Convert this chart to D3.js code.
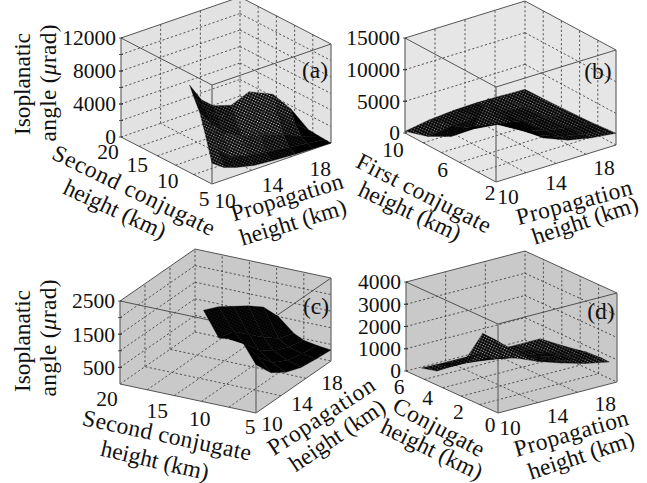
<!DOCTYPE html>
<html>
<head>
<meta charset="utf-8">
<script src="https://cdn.jsdelivr.net/npm/d3@7"></script>
<style>
  body { margin: 0; background: #fff; }
  text { font-family: "Liberation Serif", serif; fill: #111; }
</style>
</head>
<body>
<div id="chart"></div>
<script>
// Values
const propTicks = [10, 14, 18];

const propA = [10, 11, 12, 13.5, 15, 17, 18.5, 20];
const conjA = [5, 6, 7, 8, 8.7];
const heightA = [
  [2520, 1500, 1000, 500, 300, 120, 60, 0],
  [5300, 3300, 2000, 1300, 1000, 600, 300, 50],
  [7850, 6000, 4500, 3300, 2800, 1800, 800, 100],
  [9400, 7400, 6200, 5300, 5300, 4000, 2000, 150],
  [10600, 8300, 7100, 6400, 7300, 6000, 3500, 200]
];

const propB = [10, 12, 14, 16, 18, 20];
const conjB = [2, 2.7, 4, 6, 8, 10];
const heightB = [
  [10260, 8000, 4600, 3100, 2300, 1840],
  [12500, 7600, 4400, 3000, 2200, 1750],
  [6800, 6000, 3900, 2700, 2000, 1500],
  [3300, 3400, 3000, 2300, 1700, 1300],
  [1400, 1900, 2100, 1800, 1400, 1150],
  [260, 900, 1200, 1300, 1200, 1050]
];

const propC = [10, 12, 14, 16, 18, 20];
const conjC = [5, 6.5, 8, 9.1, 10.8];
const heightC = [
  [1450, 900, 600, 430, 370, 330],
  [2050, 1300, 800, 560, 450, 380],
  [2060, 1600, 1100, 750, 560, 450],
  [2020, 1900, 1500, 1100, 750, 600],
  [2760, 2550, 2250, 1950, 1600, 1000]
];

const propD = [10, 11, 12, 14, 16, 18, 20];
const conjD = [0.5, 1, 2, 3, 4, 5];
const heightD = [
  [2240, 2200, 2050, 1600, 1250, 950, 740],
  [3260, 2850, 2400, 1600, 1200, 950, 760],
  [1900, 1900, 1600, 1300, 1050, 850, 720],
  [1150, 1150, 1100, 950, 800, 650, 580],
  [630, 700, 700, 650, 600, 500, 470],
  [450, 430, 420, 420, 400, 370, 375]
];

// Panel layout: box corners are in page pixels
const panels = [
  {
    id: "a", O: [212, 184], L: [121, 137], R: [331, 143], H: 99, wall: "#e2e2e2", dots: 0.8,
    prop: propA, conj: conjA, heights: heightA,
    conjDomain: [5, 20], conjTicks: [5, 10, 15, 20], conjGrid: [8, 11, 14, 17],
    conjOffs: [[-8, 15], [-14, 12], [-14, 12], [-13, 15]],
    propGrid: [13.33, 16.67], zMax: 12000, zGrid: [2000, 4000, 6000, 8000, 10000],
    zLabels: [0, 4000, 8000, 12000],
    propOff: [13, 17],
    tag: [315, 70],
    yTitle: [[22, 84], [48, 83]],
    xTitle: [["Second conjugate", 134, 190, 26, 178], ["height (km)", 115, 209, 25, null]],
    pTitle: [["Propagation", 287, 197, -17, 116], ["height (km)", 293, 222, -17, null]]
  },
  {
    id: "b", O: [496, 182], L: [405, 133], R: [616, 145], H: 95, wall: "#e6e6e6", dots: 0.55,
    prop: propB, conj: conjB, heights: heightB,
    conjDomain: [2, 10], conjTicks: [2, 6, 10], conjGrid: [3.6, 5.2, 6.8, 8.4],
    conjOffs: [[-6, 11], [-8, 12], [-12, 17]],
    propGrid: [12.5, 15, 17.5], zMax: 15000, zGrid: [5000, 10000],
    zLabels: [0, 5000, 10000, 15000],
    propOff: [12, 15],
    tag: [598, 71],
    yTitle: null,
    xTitle: [["First conjugate", 424, 193, 27, 148], ["height (km)", 410, 211, 25, null]],
    pTitle: [["Propagation", 574, 202, -15, 119], ["height (km)", 585, 220, -18, null]]
  },
  {
    id: "c", O: [256, 413], L: [120, 384], R: [331, 361], H: 83, wall: "#c9c9c9", dots: 0.1,
    prop: propC, conj: conjC, heights: heightC,
    conjDomain: [5, 20], conjTicks: [5, 10, 15, 20], conjGrid: [8, 11, 14, 17],
    conjOffs: [[-6, 14], [-11, 15], [-8, 17], [-13, 15]],
    propGrid: [13.33, 16.67], zMax: 2500, zGrid: [500, 1000, 1500, 2000],
    zLabels: [500, 1500, 2500],
    propOff: [16, 11],
    tag: [316, 306],
    yTitle: [[22, 341], [48, 338]],
    xTitle: [["Second conjugate", 167, 435, 12, 172], ["height (km)", 155, 460, 13, null]],
    pTitle: [["Propagation", 321, 416, -33, 123], ["height (km)", 337, 435, -34, null]]
  },
  {
    id: "d", O: [498, 413], L: [406, 371], R: [617, 382], H: 89, wall: "#c9c9c9", dots: 0.7,
    prop: propD, conj: conjD, heights: heightD,
    conjDomain: [0, 6], conjTicks: [0, 2, 4, 6], conjGrid: [1.2, 2.4, 3.6, 4.8],
    conjOffs: [[-8, 12], [-9, 13], [-9, 13], [-7, 16]],
    propGrid: [13.33, 16.67], zMax: 4000, zGrid: [1000, 2000, 3000],
    zLabels: [0, 1000, 2000, 3000, 4000],
    propOff: [12, 15],
    tag: [601, 311],
    yTitle: null,
    xTitle: [["Conjugate", 439, 427, 28, 100], ["height (km)", 432, 449, 26, null]],
    pTitle: [["Propagation", 571, 433, -16, 118], ["height (km)", 581, 455, -18, null]]
  }
];

const width = 647;
const height = 483;
const tickSize = 21.5;
const titleSize = 23.5;

const svg = d3.select("#chart").append("svg")
    .attr("width", width)
    .attr("height", height)
    .attr("viewBox", [0, 0, width, height]);

const defs = svg.append("defs");

panels.forEach(p => {
  // fractions along each box edge
  const tp = d3.scaleLinear().domain([10, 20]).range([0, 1]);
  const tc = d3.scaleLinear().domain(p.conjDomain).range([0, 1]);
  const tz = d3.scaleLinear().domain([0, p.zMax]).range([0, p.H]);
  const project = (pv, cv, zv) => [
    p.O[0] + tp(pv) * (p.R[0] - p.O[0]) + tc(cv) * (p.L[0] - p.O[0]),
    p.O[1] + tp(pv) * (p.R[1] - p.O[1]) + tc(cv) * (p.L[1] - p.O[1]) - tz(zv)
  ];

  const [c0, c1] = p.conjDomain;
  const g = svg.append("g");

  const hull = [project(10, c1, p.zMax), project(20, c1, p.zMax), project(20, c0, p.zMax),
    project(20, c0, 0), project(10, c0, 0), project(10, c1, 0)];
  g.append("polygon").attr("points", hull.join(" ")).attr("fill", p.wall);

  // Dashed grid on the two back walls and the floor
  const gridLines = [];
  p.conjGrid.forEach(c => {
    gridLines.push([project(10, c, 0), project(20, c, 0)]);
    gridLines.push([project(20, c, 0), project(20, c, p.zMax)]);
  });
  p.propGrid.forEach(v => {
    gridLines.push([project(v, c0, 0), project(v, c1, 0)]);
    gridLines.push([project(v, c1, 0), project(v, c1, p.zMax)]);
  });
  p.zGrid.forEach(z => {
    gridLines.push([project(10, c1, z), project(20, c1, z)]);
    gridLines.push([project(20, c1, z), project(20, c0, z)]);
  });
  gridLines.push([project(10, c1, 0), project(20, c1, 0)]);
  gridLines.push([project(20, c1, 0), project(20, c0, 0)]);
  gridLines.push([project(20, c1, 0), project(20, c1, p.zMax)]);

  g.selectAll("line.grid").data(gridLines).join("line")
      .attr("class", "grid")
      .attr("x1", d => d[0][0]).attr("y1", d => d[0][1])
      .attr("x2", d => d[1][0]).attr("y2", d => d[1][1])
      .attr("stroke", "#333").attr("stroke-width", 0.8).attr("stroke-dasharray", "2.2,2.2");

  // Solid box edges
  const edges = [
    [project(10, c1, p.zMax), project(20, c1, p.zMax)],
    [project(20, c1, p.zMax), project(20, c0, p.zMax)],
    [project(10, c1, p.zMax), project(10, c0, p.zMax)],
    [project(10, c0, p.zMax), project(20, c0, p.zMax)],
    [project(10, c1, 0), project(10, c0, 0)],
    [project(10, c0, 0), project(20, c0, 0)]
  ];
  g.selectAll("line.edge").data(edges).join("line")
      .attr("class", "edge")
      .attr("x1", d => d[0][0]).attr("y1", d => d[0][1])
      .attr("x2", d => d[1][0]).attr("y2", d => d[1][1])
      .attr("stroke", "#444").attr("stroke-width", 0.9);

  const verticals = [
    [project(10, c1, 0), project(10, c1, p.zMax)],
    [project(10, c0, 0), project(10, c0, p.zMax)],
    [project(20, c0, 0), project(20, c0, p.zMax)]
  ];
  g.selectAll("line.vert").data(verticals).join("line")
      .attr("class", "vert")
      .attr("x1", d => d[0][0]).attr("y1", d => d[0][1])
      .attr("x2", d => d[1][0]).attr("y2", d => d[1][1])
      .attr("stroke", "#666").attr("stroke-width", 1.2);

  // Short ticks on the left edge
  g.selectAll("line.tick").data(d3.merge([p.zGrid, p.zLabels])).join("line")
      .attr("class", "tick")
      .attr("x1", d => project(10, c1, d)[0] - 2).attr("y1", d => project(10, c1, d)[1])
      .attr("x2", d => project(10, c1, d)[0] + 2).attr("y2", d => project(10, c1, d)[1])
      .attr("stroke", "#333").attr("stroke-width", 0.8);

  // Stipple fills stand in for the fine mesh: tight cells read black
  const levels = 6;
  d3.range(levels).forEach(i => {
    const tile = defs.append("pattern")
        .attr("id", `mesh-${p.id}-${i}`)
        .attr("width", 2.6).attr("height", 2.6)
        .attr("patternUnits", "userSpaceOnUse")
        .attr("patternTransform", "rotate(25)");
    tile.append("rect").attr("width", 2.6).attr("height", 2.6).attr("fill", "#000");
    tile.append("circle").attr("cx", 1.3).attr("cy", 1.3).attr("r", 0.75)
        .attr("fill", "#fff").attr("opacity", p.dots * i / (levels - 1));
  });

  const cells = [];
  p.conj.slice(0, -1).forEach((cv, r) => {
    p.prop.slice(0, -1).forEach((pv, k) => {
      const corners = [
        project(pv, cv, p.heights[r][k]),
        project(p.prop[k + 1], cv, p.heights[r][k + 1]),
        project(p.prop[k + 1], p.conj[r + 1], p.heights[r + 1][k + 1]),
        project(pv, p.conj[r + 1], p.heights[r + 1][k])
      ];
      cells.push({ r, k, corners, area: Math.abs(d3.polygonArea(corners)) / ((p.prop[k + 1] - pv) * (p.conj[r + 1] - cv)) });
    });
  });
  const density = d3.scaleQuantile().domain(cells.map(d => d.area)).range(d3.range(levels));

  // far cells first so the near ones paint over them
  cells.sort((a, b) => d3.descending(a.r, b.r) || d3.descending(a.k, b.k));
  g.selectAll("polygon.cell").data(cells).join("polygon")
      .attr("class", "cell")
      .attr("points", d => d.corners.join(" "))
      .attr("fill", d => `url(#mesh-${p.id}-${density(d.area)})`)
      .attr("stroke", "#000").attr("stroke-width", 0.3);

  // Tick labels
  g.selectAll("text.z").data(p.zLabels).join("text")
      .attr("class", "z")
      .attr("x", project(10, c1, 0)[0] - 5)
      .attr("y", d => project(10, c1, d)[1])
      .attr("dy", "0.34em")
      .attr("text-anchor", "end")
      .attr("font-size", tickSize)
      .text(d => d);

  g.selectAll("text.p").data(propTicks).join("text")
      .attr("class", "p")
      .attr("x", d => project(d, c0, 0)[0] + p.propOff[0])
      .attr("y", d => project(d, c0, 0)[1] + p.propOff[1])
      .attr("dy", "0.34em")
      .attr("text-anchor", "middle")
      .attr("font-size", tickSize)
      .text(d => d);

  g.selectAll("text.c").data(p.conjTicks).join("text")
      .attr("class", "c")
      .attr("x", (d, i) => project(10, d, 0)[0] + p.conjOffs[i][0])
      .attr("y", (d, i) => project(10, d, 0)[1] + p.conjOffs[i][1])
      .attr("dy", "0.34em")
      .attr("text-anchor", "middle")
      .attr("font-size", tickSize)
      .text(d => d);

  // Sloped axis titles
  g.selectAll("text.title").data([...p.xTitle, ...p.pTitle]).join("text")
      .attr("class", "title")
      .attr("transform", d => `translate(${d[1]},${d[2]}) rotate(${d[3]})`)
      .attr("dy", "0.34em")
      .attr("text-anchor", "middle")
      .attr("font-size", titleSize)
      .attr("textLength", d => d[4])
      .attr("lengthAdjust", "spacing")
      .text(d => d[0]);

  if (p.yTitle) {
    g.append("text")
        .attr("transform", `translate(${p.yTitle[0][0]},${p.yTitle[0][1]}) rotate(-90)`)
        .attr("dy", "0.34em").attr("text-anchor", "middle")
        .attr("font-size", titleSize).attr("textLength", 102)
        .text("Isoplanatic");
    const t = g.append("text")
        .attr("transform", `translate(${p.yTitle[1][0]},${p.yTitle[1][1]}) rotate(-90)`)
        .attr("dy", "0.34em").attr("text-anchor", "middle")
        .attr("font-size", titleSize).attr("textLength", 117);
    t.append("tspan").text("angle (");
    t.append("tspan").attr("font-style", "italic").text("\u03bc");
    t.append("tspan").text("rad)");
  }

  g.append("text")
      .attr("x", p.tag[0]).attr("y", p.tag[1])
      .attr("dy", "0.34em").attr("text-anchor", "middle")
      .attr("font-size", titleSize)
      .text(`(${p.id})`);
});
</script>
</body>
</html>
